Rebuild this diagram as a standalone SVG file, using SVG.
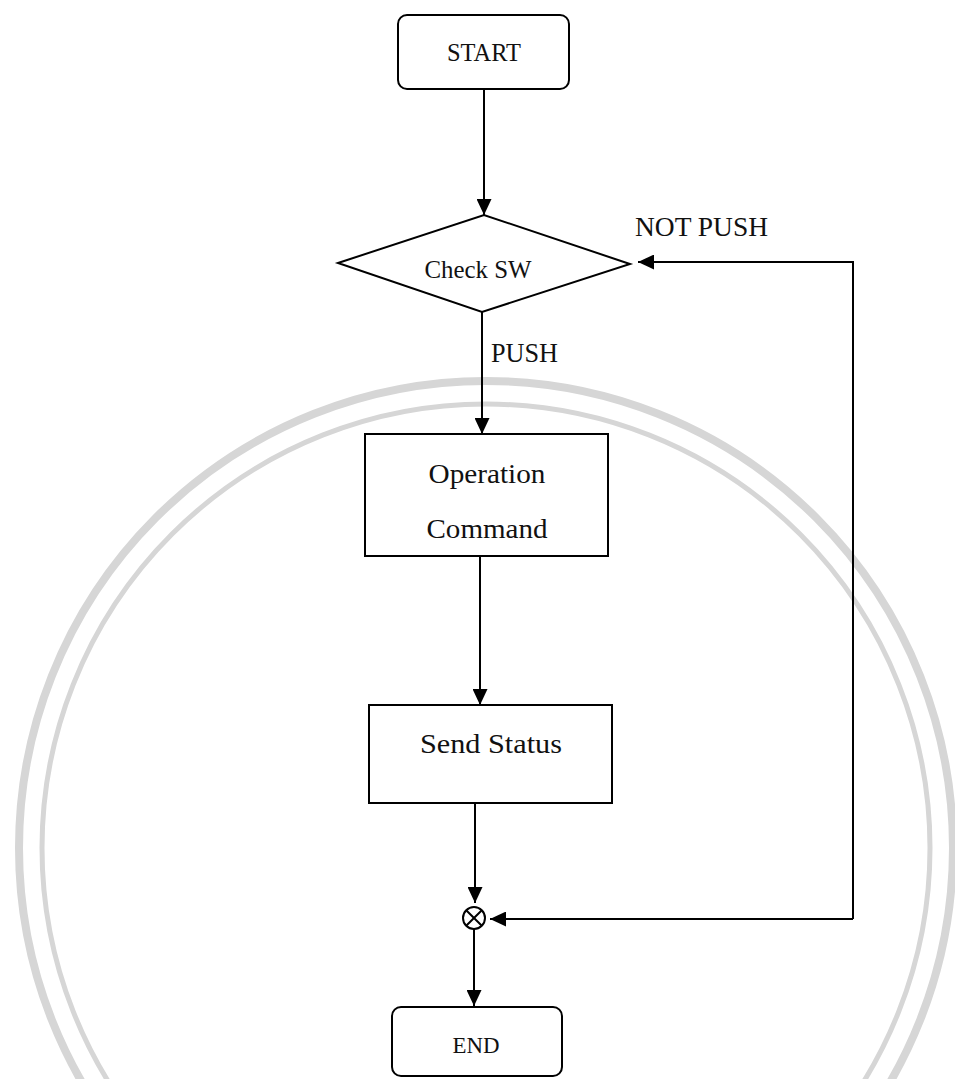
<svg xmlns="http://www.w3.org/2000/svg" width="955" height="1079" viewBox="0 0 955 1079">
  <style>
    .shape { fill: none; stroke: #000; stroke-width: 2; }
    .line { fill: none; stroke: #000; stroke-width: 2; }
    .lbl { font-family: "Liberation Serif", "DejaVu Serif", serif; fill: #111; }
    .wm { fill: none; stroke: #d6d6d6; }
  </style>
  <defs>
    <marker id="arrow" markerUnits="userSpaceOnUse" markerWidth="16" markerHeight="15" refX="16" refY="7.5" orient="auto">
      <path d="M0,0 L16,7.5 L0,15 z" fill="#000"/>
    </marker>
  </defs>
  <rect x="0" y="0" width="955" height="1079" fill="#fff"/>
  <g id="watermark">
    <circle class="wm" cx="486" cy="848" r="467" stroke-width="8"/>
    <circle class="wm" cx="486" cy="848" r="444" stroke-width="5"/>
  </g>
  <g id="connectors">
    <path class="line" d="M484,89 V215" marker-end="url(#arrow)"/>
    <path class="line" d="M482,312 V434" marker-end="url(#arrow)"/>
    <path class="line" d="M480,556 V705" marker-end="url(#arrow)"/>
    <path class="line" d="M475,803 V903" marker-end="url(#arrow)"/>
    <path class="line" d="M474,929 V1006" marker-end="url(#arrow)"/>
    <path class="line" d="M853,919 H490" marker-end="url(#arrow)"/>
    <path class="line" d="M853,919 V262 H638" marker-end="url(#arrow)"/>
    <text class="lbl" x="635" y="236" font-size="28" textLength="133" lengthAdjust="spacingAndGlyphs">NOT PUSH</text>
    <text class="lbl" x="491" y="362" font-size="28" textLength="67" lengthAdjust="spacingAndGlyphs">PUSH</text>
  </g>
  <g id="start">
    <rect class="shape" x="398" y="15" width="171" height="74" rx="9"/>
    <text class="lbl" x="484" y="61" font-size="25" text-anchor="middle" textLength="74" lengthAdjust="spacingAndGlyphs">START</text>
  </g>
  <g id="check-sw">
    <polygon class="shape" points="338,263 484,215 630,264 482,312"/>
    <text class="lbl" x="478" y="278" font-size="25" text-anchor="middle" textLength="107" lengthAdjust="spacingAndGlyphs">Check SW</text>
  </g>
  <g id="operation-command">
    <rect class="shape" x="365" y="434" width="243" height="122"/>
    <text class="lbl" x="487" y="483" font-size="28" text-anchor="middle" textLength="117" lengthAdjust="spacingAndGlyphs">Operation</text>
    <text class="lbl" x="487" y="538" font-size="28" text-anchor="middle" textLength="121" lengthAdjust="spacingAndGlyphs">Command</text>
  </g>
  <g id="send-status">
    <rect class="shape" x="369" y="705" width="243" height="98"/>
    <text class="lbl" x="491" y="753" font-size="27" text-anchor="middle" textLength="142" lengthAdjust="spacingAndGlyphs">Send Status</text>
  </g>
  <g id="junction">
    <circle class="shape" cx="474" cy="918" r="11"/>
    <path class="line" d="M466.2,910.2 L481.8,925.8 M481.8,910.2 L466.2,925.8"/>
  </g>
  <g id="end">
    <rect class="shape" x="392" y="1007" width="170" height="69" rx="9"/>
    <text class="lbl" x="476" y="1053" font-size="23" text-anchor="middle" textLength="47" lengthAdjust="spacingAndGlyphs">END</text>
  </g>
</svg>
